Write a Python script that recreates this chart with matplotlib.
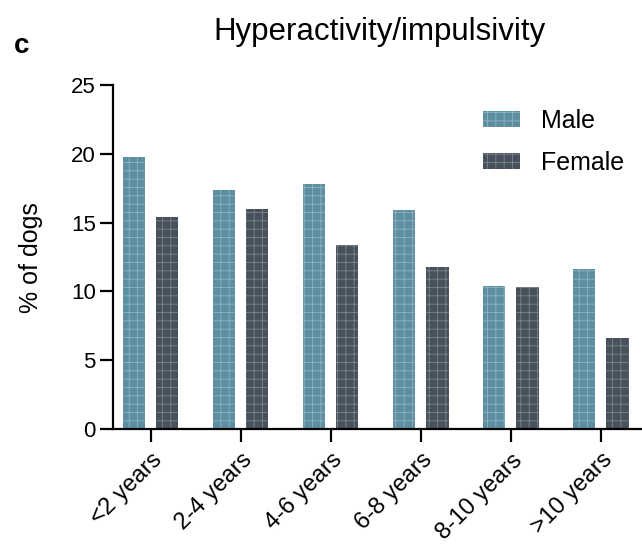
import numpy as np
import matplotlib.pyplot as plt

plt.rcParams['font.family'] = ['Liberation Sans', 'DejaVu Sans']
plt.rcParams['hatch.linewidth'] = 0.6

# Datos
age_groups = ['<2 years', '2-4 years', '4-6 years', '6-8 years', '8-10 years', '>10 years']
male = [19.8, 17.4, 17.8, 15.9, 10.4, 11.6]
female = [15.4, 16.0, 13.4, 11.8, 10.3, 6.6]

c_male = '#5e8ea2'
c_female = '#47515b'

fig = plt.figure(figsize=(6.42, 5.46), dpi=100)
ax = fig.add_axes([0.176, 0.2143, 0.83, 0.63])

x = np.arange(len(age_groups))
w = 0.245
off = 0.185
ax.bar(x - off, male, w, facecolor=c_male, edgecolor='#8fb3c2', linewidth=0,
       hatch='++', label='Male')
ax.bar(x + off, female, w, facecolor=c_female, edgecolor='#7b858e', linewidth=0,
       hatch='++', label='Female')

ax.set_xlim(-0.42, 5.5)
ax.set_ylim(0, 25)
ax.set_yticks([0, 5, 10, 15, 20, 25])
ax.set_xticks(x)
ax.set_xticklabels(age_groups, rotation=45, ha='right', rotation_mode='anchor')
ax.tick_params(axis='both', labelsize=16, width=1.6, length=9.5, color='black')
ax.tick_params(axis='x', labelsize=17, pad=5)
ax.tick_params(axis='y', pad=3)
for s in ['top', 'right']:
    ax.spines[s].set_visible(False)
for s in ['left', 'bottom']:
    ax.spines[s].set_linewidth(1.6)
ax.set_ylabel('% of dogs', fontsize=18)
ax.yaxis.set_label_coords(-0.131, 0.497)

ax.legend(loc='upper left', bbox_to_anchor=(0.694, 0.93), frameon=False,
          borderaxespad=0, borderpad=0,
          fontsize=18, handlelength=1.48, handleheight=0.6, labelspacing=0.72,
          handletextpad=0.85)

fig.text(0.591, 1 - 40 / 546, 'Hyperactivity/impulsivity', fontsize=22.5,
         ha='center', va='baseline')
fig.text(0.033, 1 - 53 / 546, 'c', fontsize=20, fontweight='bold',
         ha='center', va='baseline')

fig.savefig('out.png', dpi=100)
